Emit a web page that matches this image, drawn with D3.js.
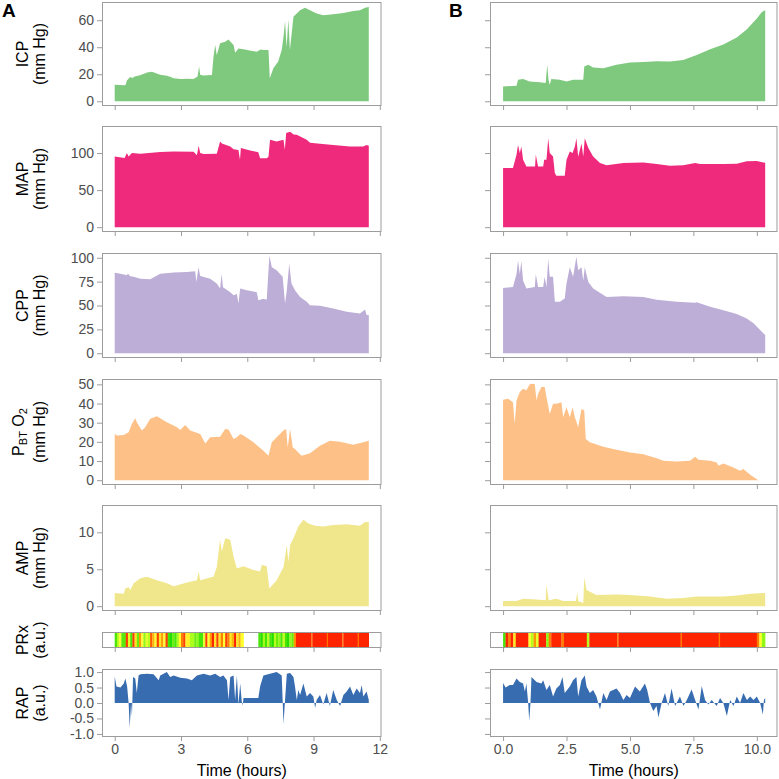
<!DOCTYPE html>
<html><head><meta charset="utf-8">
<script src="https://cdn.jsdelivr.net/npm/d3@7"></script>
<style>body{margin:0;background:#fff}svg{display:block;font-family:"Liberation Sans",Arial,Helvetica,sans-serif}</style>
</head><body><svg id="c" width="779" height="779"></svg>
<script>
// ---------- DATA (time in hours, value) ----------
const icpA = [[0,12.2],[0.45,11.8],[0.5,12.5],[0.55,15.4],[0.7,18],[0.8,17.2],[0.9,18.4],[1.1,19],[1.3,20.2],[1.46,21.3],[1.69,21.8],[1.9,20.5],[2.06,19.6],[2.36,18.9],[2.5,18.2],[2.67,17],[3.0,16.5],[3.27,16.7],[3.57,16.4],[3.75,18.4],[3.82,25.7],[3.87,19.6],[4.0,19],[4.2,19.2],[4.4,19.5],[4.47,33],[4.55,41.6],[4.62,34],[4.77,42.9],[5.0,44],[5.15,45.8],[5.3,43],[5.38,41.6],[5.45,36],[5.6,39],[5.83,38.5],[6.1,37.5],[6.43,36.7],[6.6,38.4],[6.73,38],[6.96,38],[7.02,17],[7.18,24.5],[7.4,29.4],[7.56,38],[7.64,47.8],[7.71,59.5],[7.78,40],[7.86,60.5],[7.93,38],[8.09,62.5],[8.39,67.4],[8.61,69.3],[8.84,67.4],[9.14,65],[9.44,63.7],[9.89,64.4],[10.35,65.4],[10.8,66.9],[11.1,67.4],[11.33,69.3],[11.5,69.8]];
const icpB = [[0,11],[0.53,11.5],[0.59,15.9],[0.79,16.4],[1.05,14.7],[1.45,14],[1.68,13.5],[1.74,27],[1.79,16],[1.84,12.2],[1.9,16.4],[2.24,15.9],[2.5,14.7],[2.76,15.9],[3.16,15.9],[3.2,25.7],[3.36,27],[3.55,25],[3.95,24.5],[4.47,27],[5.0,28.7],[5.53,29.1],[6.05,29.6],[6.58,29.4],[7.1,30.6],[7.63,34.3],[8.16,38.5],[8.68,42.1],[9.21,47.3],[9.6,53.1],[10.0,61.2],[10.2,66.1],[10.33,67.4]];

const mapA = [[0,95.5],[0.45,93.3],[0.55,100],[0.63,95.5],[0.78,100],[1.16,99],[2.06,101.3],[2.67,102.2],[3.57,101.8],[3.72,97],[3.8,110],[3.87,100],[4.02,98.7],[4.62,99],[4.77,115.7],[4.85,113],[5.23,109],[5.38,105],[5.6,104],[5.67,91],[5.71,106.7],[6.13,103.6],[6.5,101],[6.58,93],[6.88,93],[6.96,95],[7.03,118],[7.33,115.7],[7.64,118],[7.7,104.5],[7.76,127],[7.94,128.7],[8.1,125],[8.24,124.7],[8.69,118],[8.84,114],[9.29,112.6],[9.89,111],[10.65,109],[11.25,109],[11.4,111],[11.5,110]];
const mapB = [[0,79.8],[0.39,79.8],[0.53,97.8],[0.59,111],[0.66,100],[0.72,109],[0.79,91],[0.92,82],[1.26,82],[1.29,97.8],[1.38,82],[1.58,82],[1.62,91],[1.71,91],[1.78,120],[1.84,100],[1.97,95.5],[2.04,73],[2.1,69.5],[2.43,69.5],[2.5,91],[2.63,102],[2.74,100],[2.83,109],[2.89,120],[2.96,95],[3.09,113],[3.16,95.5],[3.22,120],[3.36,106.7],[3.55,95.5],[3.82,86.5],[4.08,83.4],[4.74,86.5],[5.53,87.4],[6.05,85.2],[6.58,83],[7.1,83.4],[7.57,86.5],[7.76,85.2],[8.68,85.2],[9.21,85.7],[9.6,88.8],[10.0,89.2],[10.26,87.4],[10.33,87]];

const cppA = [[0,84.4],[0.26,83.3],[0.56,81.6],[0.59,83.5],[0.7,80.6],[0.86,80],[1.16,78],[1.61,77.4],[2.06,83.3],[2.67,84.7],[3.27,85],[3.64,86],[3.7,74.7],[3.79,90],[3.87,81],[4.32,78],[4.62,73],[4.77,67.7],[4.84,83],[4.9,69],[5.23,64],[5.38,60.8],[5.53,62],[5.6,52],[5.68,67.7],[5.98,66],[6.43,64],[6.5,55.6],[6.73,57],[6.88,56],[7.0,102],[7.11,90],[7.33,86.8],[7.6,80],[7.71,52],[7.79,66],[7.9,93.8],[8.0,73],[8.16,66],[8.39,59],[8.69,53.8],[8.84,50.3],[9.29,49.7],[9.89,46.9],[10.5,43.4],[11.1,41.7],[11.33,45.8],[11.4,40],[11.5,40]];
const cppB = [[0,68.4],[0.39,69.4],[0.53,83],[0.59,97],[0.66,83],[0.72,96.5],[0.79,76],[0.92,67.7],[1.25,69.4],[1.29,83],[1.38,69.4],[1.58,69.4],[1.64,80],[1.71,69.4],[1.78,99],[1.84,80],[1.97,80],[2.04,53.8],[2.24,53.8],[2.43,57.3],[2.5,73],[2.63,90],[2.76,80],[2.89,101],[2.96,86.8],[3.09,90],[3.16,76],[3.22,90],[3.36,74.7],[3.55,67.7],[4.08,59],[4.74,59.7],[5.53,59],[6.05,56],[6.84,53.8],[7.57,52.8],[7.63,53.5],[8.16,48.6],[8.68,45],[9.21,41],[9.6,36.5],[9.87,31.3],[10.13,24.3],[10.33,19]];

const pbto2A = [[0,24.1],[0.1,23.3],[0.41,23.6],[0.63,25],[0.78,29.4],[0.93,32.3],[1.0,30.2],[1.23,25.9],[1.38,27.6],[1.61,32],[1.91,33.4],[2.36,30.2],[2.82,27.6],[2.97,26.2],[3.19,28.8],[3.42,25.9],[3.87,24.1],[3.95,22.4],[4.1,19.2],[4.32,22.4],[4.77,22.7],[5.0,26.7],[5.15,26.4],[5.38,21.5],[5.53,22.4],[5.68,24.1],[5.83,23.3],[6.28,19.8],[6.73,15.4],[6.96,12.8],[7.11,19.8],[7.41,23.3],[7.64,25.9],[7.76,26.7],[7.83,17.1],[7.94,26.7],[8.06,17.1],[8.16,16.3],[8.31,14.5],[8.46,12.8],[8.84,14],[9.29,18],[9.74,20.6],[10.2,20.1],[10.8,18.5],[11.25,19.8],[11.5,20.6]];
const pbto2B = [[0,42],[0.2,42.5],[0.39,40.7],[0.46,29.4],[0.53,41.6],[0.66,46],[0.79,47.7],[0.92,46.9],[1.05,50],[1.18,50.3],[1.25,50],[1.32,41.6],[1.38,45],[1.51,48.6],[1.64,48.6],[1.71,43.4],[1.84,34.6],[1.97,39.9],[2.1,39.9],[2.3,40.7],[2.37,32.9],[2.5,38],[2.63,32.9],[2.74,38],[2.83,32.9],[2.96,27.6],[3.09,37.2],[3.2,36.4],[3.26,21.5],[3.42,19.8],[3.95,17.5],[4.47,15.9],[5.0,14.5],[5.53,13.6],[6.05,11.5],[6.32,10.1],[6.84,9.8],[7.37,10.1],[7.57,12.2],[7.7,10.7],[8.16,10.1],[8.42,9.3],[8.49,7.6],[8.68,8.7],[9.08,6.6],[9.34,4.9],[9.47,5.8],[9.74,2.8],[10.0,0.5],[10.07,0]];

const ampA = [[0,1.8],[0.41,1.7],[0.48,2.4],[0.63,2.6],[0.7,2.2],[0.86,3.1],[1.16,3.8],[1.46,4],[1.91,3.5],[2.36,3.1],[2.67,2.7],[3.27,3.2],[3.72,3.5],[3.8,4.7],[3.87,3.5],[4.32,3.9],[4.47,4],[4.62,5.3],[4.77,9],[4.85,7.4],[5.0,9.2],[5.23,9],[5.38,6.7],[5.53,5.1],[5.83,5.4],[6.28,4.9],[6.58,4.7],[6.66,5.6],[6.88,5.4],[7.0,2.4],[7.33,3.5],[7.64,5.3],[7.79,8.3],[7.86,6],[7.94,8.3],[8.09,9.2],[8.31,10.8],[8.54,11.7],[8.77,11.2],[9.07,10.9],[9.44,10.8],[9.89,11],[10.5,11.1],[11.1,10.9],[11.33,11.4],[11.5,11.4]];
const ampB = [[0,0.7],[0.53,0.7],[0.79,1.0],[1.32,0.9],[1.68,0.8],[1.71,2.9],[1.8,0.8],[2.1,1.0],[2.37,0.7],[2.87,0.7],[2.92,1.9],[2.96,0.7],[3.16,0.45],[3.2,3.9],[3.29,2.2],[3.68,1.5],[4.47,1.6],[5.0,1.5],[5.79,1.3],[6.45,1.0],[7.1,1.1],[7.63,1.3],[8.68,1.3],[9.21,1.45],[9.74,1.7],[10.33,1.8]];

// PRx segments: [start, end, PRx]
const prxA = [[0,0.1,-0.4],[0.1,0.2,-0.1],[0.2,0.3,0.05],[0.3,0.5,-0.35],[0.5,0.6,0.4],[0.6,0.7,0],[0.7,0.8,-0.4],[0.8,0.9,0.4],[0.9,1.0,0.1],[1.0,1.1,-0.3],[1.1,1.2,0.25],[1.2,1.3,0.05],[1.3,1.4,-0.2],[1.4,1.5,0],[1.5,1.6,-0.1],[1.6,1.7,0.35],[1.7,1.8,0.2],[1.8,1.9,0.05],[1.9,2.0,0.4],[2.0,2.1,0.1],[2.1,2.2,0.25],[2.2,2.3,0.05],[2.3,2.4,0.4],[2.4,2.5,-0.4],[2.5,2.6,-0.5],[2.6,2.7,-0.3],[2.7,2.8,-0.4],[2.8,2.9,-0.15],[2.9,3.0,0.05],[3.0,3.1,0.3],[3.1,3.2,0.4],[3.2,3.4,0.08],[3.4,3.6,-0.12],[3.6,3.7,-0.3],[3.7,3.8,-0.2],[3.8,4.0,-0.4],[4.0,4.1,0],[4.1,4.2,0.4],[4.2,4.3,0.05],[4.3,4.4,0.25],[4.4,4.5,0.45],[4.5,4.6,0.1],[4.6,4.7,0.4],[4.7,4.8,0.1],[4.8,4.9,0.3],[4.9,5.0,0.05],[5.0,5.1,0.4],[5.1,5.2,0.3],[5.2,5.3,0.1],[5.3,5.4,0.2],[5.4,5.5,0.45],[5.5,5.6,0.1],[5.6,5.7,0.2],[5.7,5.84,0.05],[6.5,6.6,-0.4],[6.6,6.7,-0.5],[6.7,6.8,-0.15],[6.8,6.9,-0.4],[6.9,7.0,-0.1],[7.0,7.1,-0.4],[7.1,7.2,-0.5],[7.2,7.3,-0.1],[7.3,7.4,-0.3],[7.4,7.5,-0.2],[7.5,7.6,-0.4],[7.6,7.7,-0.05],[7.7,7.8,-0.4],[7.8,7.9,-0.5],[7.9,8.0,-0.2],[8.0,8.1,-0.3],[8.1,8.2,0.25],[8.2,8.9,0.45],[8.9,8.95,0.3],[8.95,9.6,0.45],[9.6,9.65,0.3],[9.65,10.3,0.45],[10.3,10.35,0.3],[10.35,11.0,0.45],[11.0,11.05,0.3],[11.05,11.5,0.45]];
const prxB = [[0,0.1,-0.4],[0.1,0.2,0.45],[0.2,0.3,0.3],[0.3,0.4,0.45],[0.4,0.5,0.1],[0.5,1.0,0.45],[1.0,1.1,0.05],[1.1,1.2,-0.1],[1.2,1.3,0.25],[1.3,1.4,0],[1.4,1.7,0.45],[1.7,1.8,-0.2],[1.8,1.9,0.3],[1.9,2.3,0.45],[2.3,2.4,0.3],[2.4,3.3,0.45],[3.3,3.4,-0.1],[3.4,4.5,0.45],[4.5,4.55,0.3],[4.55,7.0,0.45],[7.0,7.05,0.3],[7.05,8.5,0.45],[8.5,8.55,0.3],[8.55,10.0,0.45],[10.0,10.1,0.3],[10.1,10.2,0.05],[10.2,10.33,-0.2]];

const rapA = [[0,0.86],[0.08,0.53],[0.26,0.5],[0.41,0.63],[0.48,0.79],[0.56,0.55],[0.63,0],[0.68,-0.79],[0.74,0],[0.78,-0.42],[0.83,0.84],[0.93,0.79],[1.0,0.32],[1.08,0.89],[1.16,0.93],[1.46,0.95],[1.76,0.93],[1.99,0.74],[2.06,0.89],[2.36,1.0],[2.51,0.84],[2.67,0.89],[2.97,0.82],[3.27,0.79],[3.49,0.74],[3.72,0.89],[4.02,0.95],[4.32,0.89],[4.55,0.95],[4.77,0.84],[4.92,0.89],[5.08,0.74],[5.15,0.1],[5.23,0.84],[5.38,0.89],[5.45,0.1],[5.53,0.89],[5.6,-0.05],[5.68,0.63],[5.75,0.05],[5.79,-0.08],[5.83,0.16],[6.5,0.16],[6.58,0.53],[6.73,0.89],[7.03,0.95],[7.33,1.0],[7.56,0.89],[7.64,-0.68],[7.71,0.1],[7.79,0.95],[7.94,0.97],[8.09,0.84],[8.16,0.53],[8.24,0.1],[8.31,0.42],[8.39,0.26],[8.54,0.63],[8.69,0.21],[8.84,0.32],[8.99,0.21],[9.07,-0.16],[9.14,0.1],[9.29,0.26],[9.44,-0.05],[9.59,0.32],[9.74,-0.1],[9.89,0.42],[10.05,0.1],[10.2,-0.1],[10.35,0.26],[10.5,0.37],[10.65,0.53],[10.8,0.26],[10.95,0.47],[11.1,0.32],[11.18,0.58],[11.25,0.21],[11.4,0.37],[11.5,0.1]];
const rapB = [[0,0.65],[0.1,0.5],[0.26,0.58],[0.39,0.58],[0.53,0.79],[0.66,0.68],[0.79,0.63],[0.86,0.37],[0.92,0.63],[0.99,0],[1.03,-0.58],[1.08,0],[1.12,0.84],[1.32,0.68],[1.51,0.63],[1.58,0.74],[1.71,0.42],[1.84,0.58],[1.97,0.21],[2.1,0.47],[2.24,0.58],[2.34,0.84],[2.43,0.32],[2.63,0.53],[2.76,0.74],[2.89,0.84],[2.96,0.21],[3.09,0.74],[3.22,0.89],[3.29,0.53],[3.42,0.32],[3.55,0.42],[3.68,0.21],[3.82,-0.21],[3.95,0.32],[4.08,0.1],[4.21,0.37],[4.47,0.47],[4.61,0.32],[4.74,0.1],[4.87,0.26],[5.0,0.16],[5.2,0.53],[5.39,0.37],[5.59,0.63],[5.68,0.42],[5.79,0],[5.92,-0.26],[6.05,-0.1],[6.12,-0.47],[6.25,0],[6.38,0.32],[6.51,-0.1],[6.64,0.47],[6.78,-0.1],[6.97,0.21],[7.11,-0.1],[7.24,0.1],[7.43,0.44],[7.57,0.1],[7.7,-0.21],[7.83,0.55],[7.96,0.1],[8.09,-0.05],[8.22,0.1],[8.42,-0.1],[8.55,0.16],[8.68,0],[8.82,-0.42],[8.95,0.1],[9.08,-0.1],[9.21,0.21],[9.34,0],[9.47,0.32],[9.61,0.1],[9.74,0.21],[9.87,0.1],[10.0,0.21],[10.13,0],[10.24,-0.37],[10.28,0.1],[10.33,0.16]];

// tick labels
const xTicksA = [0,3,6,9,12];
const xTicksB = [0,2.5,5,7.5,10];
const icpTicks = [0,20,40,60];
const mapTicks = [0,50,100];
const cppTicks = [0,25,50,75,100];
const pbto2Ticks = [0,10,20,30,40,50];
const ampTicks = [0,5,10];
const rapTicks = [-1,-0.5,0,0.5,1];
const xTitle = "Time (hours)";
const panelLetters = ["A","B"];

// ---------- LAYOUT ----------
const svg = d3.select('#c');
const FONT_TICK = 14, FONT_TITLE = 16;
const tickCol = "#4d4d4d", lineCol = "#9c9c9c";

const cols = [
  {letter:panelLetters[0], lx:2, x0:102, x1:381.5, domain:[-0.575,12.075], ticks:xTicksA, fmt:d=>String(d)},
  {letter:panelLetters[1], lx:449, x0:490, x1:777.5, domain:[-0.515,10.815], ticks:xTicksB, fmt:d=>d.toFixed(1)}
];
const rows = [
  {type:'area', top:2, bottom:106, domain:[-3.5,73.5], ticks:icpTicks, fmt:d=>String(d), color:'#7fc97f', data:[icpA,icpB], title:['ICP','(mm Hg)']},
  {type:'area', top:126, bottom:232, domain:[-6.5,136.5], ticks:mapTicks, fmt:d=>String(d), color:'#ef2a7c', data:[mapA,mapB], title:['MAP','(mm Hg)']},
  {type:'area', top:253, bottom:358, domain:[-5,105], ticks:cppTicks, fmt:d=>String(d), color:'#bcaed6', data:[cppA,cppB], title:['CPP','(mm Hg)']},
  {type:'area', top:379, bottom:485, domain:[-2.5,52.8], ticks:pbto2Ticks, fmt:d=>String(d), color:'#fdc086', data:[pbto2A,pbto2B], title:['PBTO2','(mm Hg)']},
  {type:'area', top:505, bottom:611, domain:[-0.65,13.7], ticks:ampTicks, fmt:d=>String(d), color:'#f0e68c', data:[ampA,ampB], title:['AMP','(mm Hg)']},
  {type:'strip', top:632, bottom:648, data:[prxA,prxB], title:['PRx','(a.u.)']},
  {type:'area', top:669, bottom:737, domain:[-1.1,1.1], ticks:rapTicks, fmt:d=>d.toFixed(1), color:'#386cb0', data:[rapA,rapB], title:['RAP','(a.u.)']}
];
const prxColor = d3.scaleLinear()
  .domain([-0.5,-0.1,0.05,0.25,0.45])
  .range(["#22dd00","#b4ff1e","#ffff30","#ff9a00","#ff2400"])
  .clamp(true);

cols.forEach(c=>{
  svg.append('text').attr('x',c.lx).attr('y',17).attr('font-size',19).attr('font-weight','bold')
    .attr('fill','#000').text(c.letter);
});

rows.forEach((r,ri)=>{
  const last = ri===rows.length-1;
  const cy = (r.top+r.bottom)/2;
  const g = svg.append('g').attr('transform',`translate(0,${cy})`);
  if (r.title[0]==='PBTO2'){
    const t1 = g.append('text').attr('transform','translate(24,0) rotate(-90)').attr('text-anchor','middle')
      .attr('font-size',FONT_TITLE).attr('fill','#000');
    t1.append('tspan').text('P');
    t1.append('tspan').attr('font-size',11).attr('dy',3).text('BT');
    t1.append('tspan').attr('dy',-3).text(' O');
    t1.append('tspan').attr('font-size',11).attr('dy',3).text('2');
  } else {
    g.append('text').attr('transform','translate(28,0) rotate(-90)').attr('text-anchor','middle')
      .attr('font-size',FONT_TITLE).attr('fill','#000').text(r.title[0]);
  }
  g.append('text').attr('transform','translate(45,0) rotate(-90)').attr('text-anchor','middle')
      .attr('font-size',FONT_TITLE).attr('fill','#000').text(r.title[1]);

  cols.forEach((c,ci)=>{
    const xs = d3.scaleLinear().domain(c.domain).range([c.x0,c.x1]);
    const series = r.data[ci];
    if (r.type==='area'){
      const ys = d3.scaleLinear().domain(r.domain).range([r.bottom,r.top]);
      const area = d3.area().x(d=>xs(d[0])).y0(ys(0)).y1(d=>ys(d[1]));
      svg.append('path').datum(series).attr('d',area).attr('fill',r.color);
      const ya = d3.axisLeft(ys).tickValues(r.ticks).tickSize(5).tickPadding(3)
        .tickFormat(ci===0 ? r.fmt : ()=> '');
      const ag = svg.append('g').attr('transform',`translate(${c.x0},0)`).call(ya);
      ag.select('.domain').remove();
      ag.selectAll('line').attr('stroke',lineCol);
      ag.selectAll('text').attr('font-size',FONT_TICK).attr('fill',tickCol).attr('font-family',null);
    } else {
      svg.append('g').selectAll('rect').data(series).join('rect')
        .attr('x',d=>xs(d[0])).attr('width',d=>Math.max(0.6,xs(d[1])-xs(d[0])+0.2))
        .attr('y',r.top).attr('height',r.bottom-r.top)
        .attr('fill',d=>prxColor(d[2]));
    }
    svg.append('rect').attr('x',c.x0+0.5).attr('y',r.top+0.5)
      .attr('width',c.x1-c.x0-1).attr('height',r.bottom-r.top-1)
      .attr('fill','none').attr('stroke',lineCol).attr('stroke-width',1);
    const xa = d3.axisBottom(xs).tickValues(c.ticks).tickSize(4).tickPadding(3)
      .tickFormat(last ? c.fmt : ()=> '');
    const xg = svg.append('g').attr('transform',`translate(0,${r.bottom})`).call(xa);
    xg.select('.domain').remove();
    xg.selectAll('line').attr('stroke',lineCol);
    xg.selectAll('text').attr('font-size',FONT_TICK).attr('fill',tickCol).attr('font-family',null);
    if (last){
      svg.append('text').attr('x',(c.x0+c.x1)/2).attr('y',776).attr('text-anchor','middle')
        .attr('font-size',FONT_TITLE).attr('fill','#000').text(xTitle);
    }
  });
});
</script></body></html>
